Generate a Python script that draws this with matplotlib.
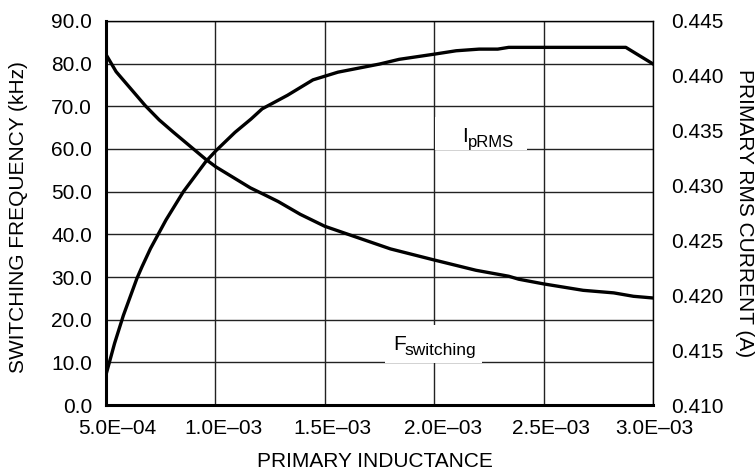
import matplotlib
matplotlib.use('Agg')
import matplotlib.pyplot as plt
from matplotlib.patches import Rectangle
from matplotlib.transforms import ScaledTranslation

plt.rcParams['font.family'] = ['Liberation Sans', 'DejaVu Sans']

# primary inductance (H) for the switching frequency curve
f_l = [0.500e-3, 0.547e-3, 0.681e-3, 0.744e-3, 0.807e-3, 0.956e-3, 1.003e-3,
       1.160e-3, 1.220e-3, 1.287e-3, 1.388e-3, 1.500e-3, 1.630e-3, 1.800e-3,
       2.000e-3, 2.190e-3, 2.340e-3, 2.386e-3, 2.500e-3, 2.680e-3, 2.820e-3,
       2.910e-3, 3.000e-3]
# switching frequency (kHz)
f_sw = [82.2, 78.1, 70.1, 66.8, 64.0, 57.6, 55.8,
        50.9, 49.4, 47.7, 44.7, 41.9, 39.6, 36.6,
        34.0, 31.6, 30.2, 29.5, 28.4, 26.9, 26.3,
        25.5, 25.1]

# primary inductance (H) for the RMS current curve
i_l = [0.500e-3, 0.540e-3, 0.580e-3, 0.642e-3, 0.665e-3, 0.704e-3, 0.775e-3,
       0.854e-3, 0.956e-3, 1.003e-3, 1.090e-3, 1.163e-3, 1.214e-3, 1.330e-3,
       1.446e-3, 1.560e-3, 1.750e-3, 1.840e-3, 2.000e-3, 2.100e-3, 2.205e-3,
       2.290e-3, 2.340e-3, 2.875e-3, 3.000e-3]
# primary RMS current (A)
i_rms = [0.41272, 0.41564, 0.41817, 0.42155, 0.42260, 0.42427, 0.42688,
         0.42944, 0.43217, 0.43318, 0.43485, 0.43606, 0.43699, 0.43823,
         0.43963, 0.44033, 0.44107, 0.44150, 0.44197, 0.44228, 0.44243,
         0.44243, 0.44259, 0.44259, 0.44107]

x_ticks = [0.5e-3, 1.0e-3, 1.5e-3, 2.0e-3, 2.5e-3, 3.0e-3]
x_labels = ['5.0E–04', '1.0E–03', '1.5E–03', '2.0E–03', '2.5E–03', '3.0E–03']
y_ticks = [0, 10, 20, 30, 40, 50, 60, 70, 80, 90]
y2_ticks = [0.410, 0.415, 0.420, 0.425, 0.430, 0.435, 0.440, 0.445]

fs = 15

fig = plt.figure(figsize=(7.56, 4.75), dpi=100)
ax = fig.add_axes([0.140, 0.147, 0.724, 0.809])

ax.plot(f_l, f_sw, color='black', lw=2.4, zorder=3)
ax.set_xlim(0.5e-3, 3.0e-3)
ax.set_ylim(0, 90)
ax.set_xticks(x_ticks)
ax.set_xticklabels(x_labels)
ax.set_yticks(y_ticks)
ax.set_yticklabels(['%.1f' % v for v in y_ticks])
ax.grid(True, color='#222222', lw=1.0)
ax.tick_params(length=0, labelsize=fs, pad=10)
ax.spines['left'].set_linewidth(2.2)
ax.spines['bottom'].set_linewidth(2.2)
ax.spines['top'].set_linewidth(1.0)
ax.spines['right'].set_linewidth(1.0)

# the x labels sit a little right of their grid lines in the original
shifts = [11, 8, 8, 9, 7, 1]
for lab, dx in zip(ax.get_xticklabels(), shifts):
    lab.set_transform(lab.get_transform() + ScaledTranslation(dx / 100, 0, fig.dpi_scale_trans))

ax2 = ax.twinx()
ax2.plot(i_l, i_rms, color='black', lw=2.4, zorder=3)
ax2.set_ylim(0.410, 0.445)
ax2.set_yticks(y2_ticks)
ax2.set_yticklabels(['%.3f' % v for v in y2_ticks])
ax2.tick_params(length=0, labelsize=fs, pad=13)
for s in ax2.spines.values():
    s.set_visible(False)

# axis titles
fig.text(0.0251, 0.542, 'SWITCHING FREQUENCY (kHz)', fontsize=fs, rotation=90,
         ha='center', va='center')
fig.text(0.9854, 0.5516, 'PRIMARY RMS CURRENT (A)', fontsize=fs, rotation=270,
         ha='center', va='center')
fig.text(0.4954, 0.0274, 'PRIMARY INDUCTANCE', fontsize=fs, ha='center', va='center')

# curve labels on white patches
ax.add_patch(Rectangle((0.6015, 0.664), 0.168, 0.086, transform=ax.transAxes,
                       facecolor='white', edgecolor='none', zorder=2))
ax.add_patch(Rectangle((0.510, 0.109), 0.177, 0.099, transform=ax.transAxes,
                       facecolor='white', edgecolor='none', zorder=2))
ax.text(0.651, 0.685, 'I', fontsize=fs, transform=ax.transAxes,
        ha='left', va='baseline', zorder=4)
ax.text(0.662, 0.672, 'pRMS', fontsize=12, transform=ax.transAxes,
        ha='left', va='baseline', zorder=4)
ax.text(0.525, 0.143, 'F', fontsize=fs, transform=ax.transAxes,
        ha='left', va='baseline', zorder=4)
ax.text(0.546, 0.130, 'switching', fontsize=12.5, transform=ax.transAxes,
        ha='left', va='baseline', zorder=4)

fig.savefig('out.png', dpi=100)
